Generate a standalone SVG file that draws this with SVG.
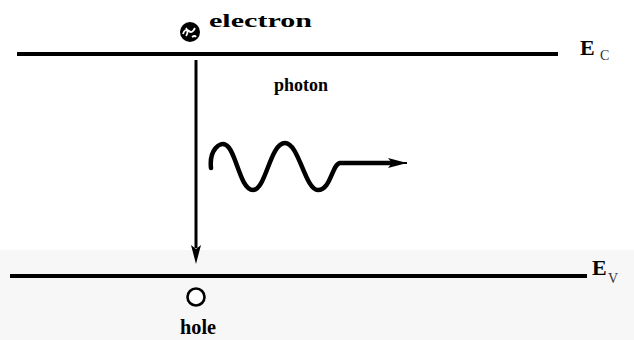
<svg xmlns="http://www.w3.org/2000/svg" width="634" height="340" viewBox="0 0 634 340">
<style>
.lbl{font-family:"Liberation Serif","Times New Roman",serif;font-weight:bold;fill:#000}
.lvl{stroke:#000;stroke-width:4;fill:none}
.sub{font-family:"Liberation Serif","Times New Roman",serif;font-size:14px;fill:#333}
</style>
<rect width="634" height="340" fill="#fff"/>
<rect x="0" y="250" width="634" height="90" fill="#f7f7f7"/>
<g id="levels">
<g id="conduction-band">
<line class="lvl" x1="17" y1="54" x2="558" y2="54"/>
<text class="lbl" x="580" y="55" font-size="22">E</text>
<text class="sub" x="600" y="60">C</text>
</g>
<g id="valence-band">
<line class="lvl" x1="10" y1="276" x2="587" y2="276"/>
<text class="lbl" x="592" y="275" font-size="22">E</text>
<text class="sub" x="608" y="283">V</text>
</g>
</g>
<g id="electron">
<circle cx="190" cy="32" r="10" fill="#000"/>
<path d="M183,34 q2,-6 6,-3 q3,3 6,-3 M186,28 q3,4 0,8 M192,37 q3,-2 4,0" stroke="#fff" stroke-width="1.8" fill="none"/>
<text class="lbl" x="209" y="27" font-size="18" textLength="103" lengthAdjust="spacingAndGlyphs">electron</text>
</g>
<g id="hole">
<circle cx="196" cy="297" r="8.5" fill="#fff" stroke="#000" stroke-width="2.6"/>
<text class="lbl" x="180" y="334" font-size="20" textLength="36" lengthAdjust="spacingAndGlyphs">hole</text>
</g>
<g id="photon">
<text class="lbl" x="274" y="91" font-size="18">photon</text>
</g>
<g id="connectors">
<line x1="196" y1="60" x2="196" y2="248" stroke="#000" stroke-width="3"/>
<path d="M191,245 L196,249 L201,245 L196,264 Z" fill="#000"/>
<path d="M211,168 C209,150 220,141 226,145 C236,150 240,190 253,190 C266,190 270,143 285,143 C299,143 305,190 318,190 C331,190 332,164 340,163 L390,163" stroke="#000" stroke-width="4.5" fill="none" stroke-linecap="round"/>
<path d="M388,163 L407,163" stroke="#000" stroke-width="2"/>
<path d="M388,158 L407,163 L388,168 L392,163 Z" fill="#000"/>
</g>
</svg>
